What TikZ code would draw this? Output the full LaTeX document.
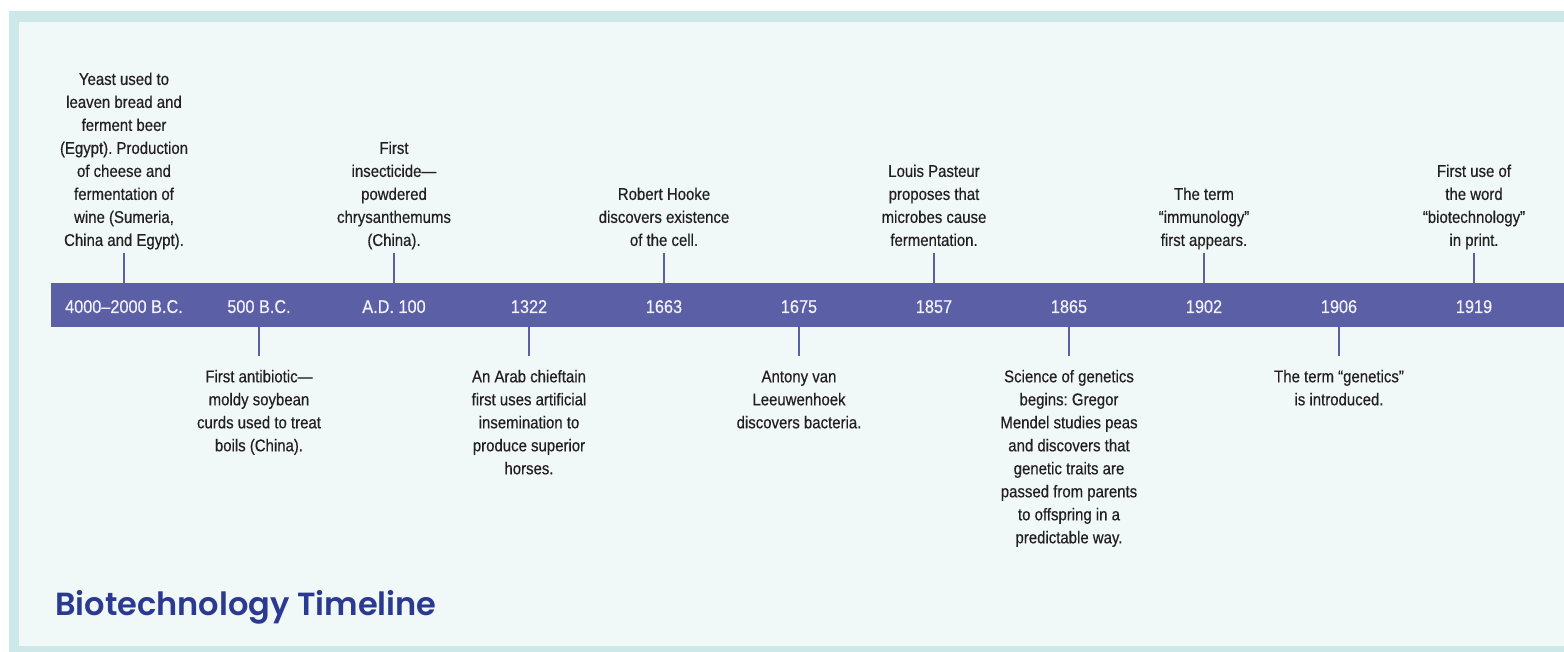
\documentclass[tikz,border=0pt]{standalone}
\usepackage{fontspec}
\setmainfont{Liberation Sans}[FakeStretch=0.88, FakeBold=0.4]
\IfFontExistsTF{Poppins SemiBold}{\newfontfamily\titlefont{Poppins SemiBold}}{\newfontfamily\titlefont{Poppins}[FakeBold=1.2]}
\definecolor{frame}{HTML}{CCE8E8}
\definecolor{panel}{HTML}{F0F8F8}
\definecolor{barblue}{HTML}{5B5FA6}
\definecolor{titleblue}{HTML}{2B3990}
\definecolor{ink}{HTML}{231F20}
\definecolor{barlabel}{HTML}{F2F2FA}
\frenchspacing
\begin{document}
\begin{tikzpicture}[x=1pt,y=-1pt,
  evtext/.style={align=center, inner sep=0pt, text=ink, font=\frenchspacing\fontsize{17}{23}\selectfont},
  toptext/.style={evtext, anchor=south},
  bottext/.style={evtext, anchor=north},
  yearlabel/.style={text=barlabel, inner sep=0pt, anchor=base, font=\frenchspacing\fontsize{18.5}{21}\selectfont},
  tickline/.style={draw=barblue, line width=2pt},
  barbox/.style={fill=barblue, draw=none, inner sep=0pt, anchor=north west, minimum width=1513pt, minimum height=44pt},
]
\useasboundingbox (0,0) rectangle (1564,652);
\fill[white] (0,0) rectangle (1564,652);
\fill[frame] (9,11) rectangle (1564,652);
\fill[panel] (19,22) rectangle (1564,646);

\node[barbox] (bar) at (51,283) {};

% year labels
\node[yearlabel] (y0) at (124,313) {4000–2000 B.C.};
\node[yearlabel] (y1) at (259,313) {500 B.C.};
\node[yearlabel] (y2) at (394,313) {A.D. 100};
\node[yearlabel] (y3) at (529,313) {1322};
\node[yearlabel] (y4) at (664,313) {1663};
\node[yearlabel] (y5) at (799,313) {1675};
\node[yearlabel] (y6) at (934,313) {1857};
\node[yearlabel] (y7) at (1069,313) {1865};
\node[yearlabel] (y8) at (1204,313) {1902};
\node[yearlabel] (y9) at (1339,313) {1906};
\node[yearlabel] (y10) at (1474,313) {1919};

% events above
\node[toptext] (e0) at (124,253) {Yeast used to\\leaven bread and\\ferment beer\\(Egypt). Production\\of cheese and\\fermentation of\\wine (Sumeria,\\China and Egypt).\strut};
\node[toptext] (e2) at (394,253) {First\\insecticide—\\powdered\\chrysanthemums\\(China).\strut};
\node[toptext] (e4) at (664,253) {Robert Hooke\\discovers existence\\of the cell.\strut};
\node[toptext] (e6) at (934,253) {Louis Pasteur\\proposes that\\microbes cause\\fermentation.\strut};
\node[toptext] (e8) at (1204,253) {The term\\“immunology”\\first appears.\strut};
\node[toptext] (e10) at (1474,253) {First use of\\the word\\“biotechnology”\\in print.\strut};

% events below
\node[bottext] (e1) at (259,366) {\strut First antibiotic—\\moldy soybean\\curds used to treat\\boils (China).};
\node[bottext] (e3) at (529,366) {\strut An Arab chieftain\\first uses artificial\\insemination to\\produce superior\\horses.};
\node[bottext] (e5) at (799,366) {\strut Antony van\\Leeuwenhoek\\discovers bacteria.};
\node[bottext] (e7) at (1069,366) {\strut Science of genetics\\begins: Gregor\\Mendel studies peas\\and discovers that\\genetic traits are\\passed from parents\\to offspring in a\\predictable way.};
\node[bottext] (e9) at (1339,366) {\strut The term “genetics”\\is introduced.};

% ticks
\foreach \e in {e0,e2,e4,e6,e8,e10}{
  \draw[tickline] (\e.south) -- (\e.south |- bar.north);
}
\foreach \e in {e1,e3,e5,e7,e9}{
  \draw[tickline] (\e.north |- bar.south) -- ([yshift=10pt]\e.north);
}

\node[anchor=base west, text=titleblue, inner sep=0pt, font=\titlefont\fontsize{32}{36}\selectfont] (title) at (55,615) {Biotechnology Timeline};
\end{tikzpicture}
\end{document}
